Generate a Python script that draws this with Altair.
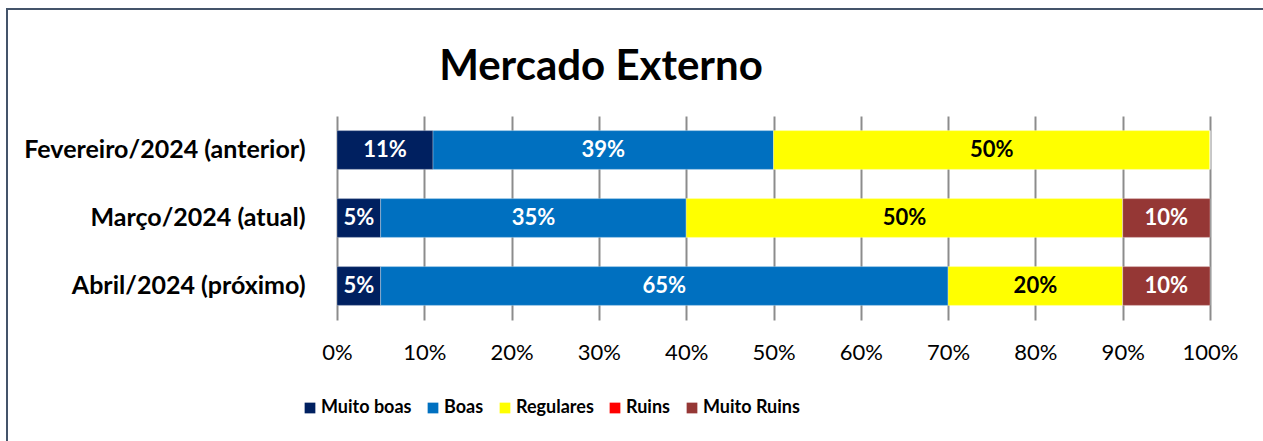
import altair as alt
import pandas as pd

periods = ["Fevereiro/2024 (anterior)", "Março/2024 (atual)", "Abril/2024 (próximo)"]
categories = ["Muito boas", "Boas", "Regulares", "Ruins", "Muito Ruins"]
colors = ["#002060", "#0070C0", "#FFFF00", "#FF0000", "#953735"]
muito_boas = [11, 5, 5]
boas = [39, 35, 65]
regulares = [50, 50, 20]
ruins = [0, 0, 0]
muito_ruins = [0, 10, 10]
x_ticks = [0, 0.1, 0.2, 0.3, 0.4, 0.5, 0.6, 0.7, 0.8, 0.9, 1.0]
chart_title = "Mercado Externo"

FONT = "Lato"

series = [muito_boas, boas, regulares, ruins, muito_ruins]
rows = []
for i, p in enumerate(periods):
    for j, c in enumerate(categories):
        rows.append({"period": p, "cat": c, "order": j, "value": series[j][i] / 100})
df = pd.DataFrame(rows)

base = alt.Chart(df).transform_stack(
    stack="value", as_=["x0", "x1"], groupby=["period"], sort=[alt.SortField("order")]
)

y_enc = alt.Y(
    "period:N",
    sort=periods,
    title=None,
    scale=alt.Scale(paddingInner=0.43, paddingOuter=0.215),
    axis=alt.Axis(
        labelFont=FONT, labelFontSize=25, labelFontWeight="bold", labelColor="black",
        labelPadding=32, labelLimit=400, ticks=False, domain=False, grid=False,
    ),
)

bars = base.mark_bar(stroke="white", strokeWidth=0.5, strokeOpacity=0.6).encode(
    x=alt.X(
        "x0:Q",
        title=None,
        scale=alt.Scale(domain=[0, 1], nice=False),
        axis=alt.Axis(
            values=x_ticks, format=".0%", labelFont=FONT, labelFontSize=22,
            labelColor="black", labelPadding=22, labelFlush=False, ticks=False, domain=False,
            grid=True, gridColor="#8c8c8c", gridWidth=2,
        ),
    ),
    x2="x1:Q",
    y=y_enc,
    color=alt.Color(
        "cat:N",
        scale=alt.Scale(domain=categories, range=colors),
        legend=alt.Legend(
            title=None, orient="none", legendX=-36, legendY=283, direction="horizontal",
            symbolType="square", symbolSize=115, symbolStrokeWidth=0,
            labelFont=FONT, labelFontSize=18, labelFontWeight="bold", labelColor="black",
            columnPadding=12, labelOffset=2,
        ),
    ),
    order=alt.Order("order:Q"),
)

labels = base.transform_filter(alt.datum.value > 0).transform_calculate(
    mid="(datum.x0 + datum.x1) / 2"
).mark_text(font=FONT, fontSize=22, fontWeight="bold").encode(
    x=alt.X("mid:Q"),
    y=alt.Y("period:N", sort=periods),
    text=alt.Text("value:Q", format=".0%"),
    color=alt.condition(alt.datum.cat == "Regulares", alt.value("black"), alt.value("white")),
)

one = pd.DataFrame({"a": [0]})

frame = alt.Chart(one).mark_rect(
    fill="transparent", stroke="#44546A", strokeWidth=2
).encode(
    x=alt.value(-330), x2=alt.value(940), y=alt.value(-107), y2=alt.value(340)
)

title = alt.Chart(one).mark_text(
    font=FONT, fontSize=42, fontWeight="bold", color="black", align="center", baseline="alphabetic"
).encode(
    x=alt.value(264), y=alt.value(-36), text=alt.value(chart_title)
)

chart = alt.layer(frame, bars, labels, title).properties(
    width=873,
    height=204,
    autosize=alt.AutoSizeParams(type="none"),
    padding={"left": 337, "top": 116, "right": 53, "bottom": 121},
    background="white",
).configure_view(stroke=None)

chart.save("out.html", embed_options={"renderer": "svg", "actions": False})
